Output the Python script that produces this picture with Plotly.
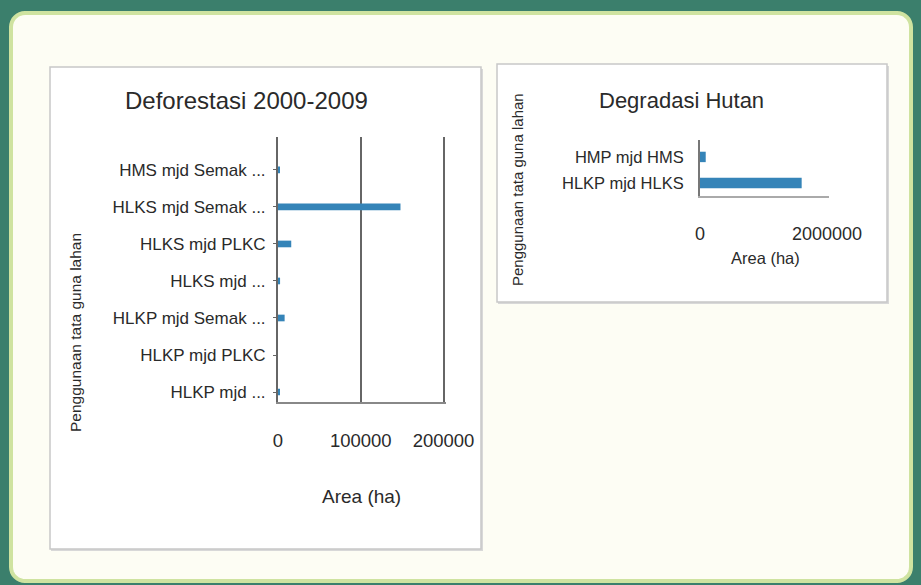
import math
import plotly.graph_objects as go

W, H = 921, 585

# ---- data ----
def_categories = ["HMS mjd Semak ...", "HLKS mjd Semak ...", "HLKS mjd PLKC",
                  "HLKS mjd ...", "HLKP mjd Semak ...", "HLKP mjd PLKC", "HLKP mjd ..."]
def_values = [1500, 148000, 16000, 2500, 8000, 0, 2000]
def_ticks = [0, 100000, 200000]

deg_categories = ["HMP mjd HMS", "HLKP mjd HLKS"]
deg_values = [90000, 1600000]
deg_ticks = [0, 2000000]

BAR = "#3584b8"
FONT = "Liberation Sans, Arial, sans-serif"
TXT = "#2a2a2a"


def fx(x):
    return x / W


def fy(y):
    return 1 - y / H


fig = go.Figure()

fig.add_trace(go.Bar(
    x=def_values, y=def_categories, orientation="h",
    marker=dict(color=BAR, line=dict(width=0)),
    width=0.18, xaxis="x", yaxis="y", showlegend=False,
))
fig.add_trace(go.Bar(
    x=deg_values, y=deg_categories, orientation="h",
    marker=dict(color=BAR, line=dict(width=0)),
    width=0.4, xaxis="x2", yaxis="y2", showlegend=False,
))

fig.update_layout(
    width=W, height=H, autosize=False,
    margin=dict(l=0, r=0, t=0, b=0, autoexpand=False),
    paper_bgcolor="#3b7f6c",
    plot_bgcolor="rgba(0,0,0,0)",
    font=dict(family=FONT, color=TXT),
    xaxis=dict(
        domain=[fx(278), fx(446)], range=[0, 203000], anchor="y",
        tickvals=def_ticks, ticktext=[str(v) for v in def_ticks],
        showgrid=True, gridcolor="#666", gridwidth=1.5,
        showline=True, linecolor="#888", linewidth=2,
        zeroline=False, ticks="", tickfont=dict(family=FONT, size=18.5, color=TXT),
        ticklabelstandoff=21,
    ),
    yaxis=dict(
        domain=[fy(402), fy(137)], anchor="x",
        type="category", categoryorder="array", categoryarray=def_categories[::-1],
        range=[-0.27, 6.89],
        showline=True, linecolor="#666", linewidth=2,
        ticks="outside", ticklen=3, tickcolor="#666",
        showgrid=False, zeroline=False, tickfont=dict(family=FONT, size=17, color=TXT),
        ticklabelstandoff=4,
    ),
    xaxis2=dict(
        domain=[fx(700), fx(829)], range=[0, 2030000], anchor="y2",
        tickvals=deg_ticks, ticktext=[str(v) for v in deg_ticks],
        showgrid=False, showline=True, linecolor="#aaa", linewidth=2,
        zeroline=False, ticks="", tickfont=dict(family=FONT, size=18, color=TXT),
        ticklabelstandoff=20,
    ),
    yaxis2=dict(
        domain=[fy(196), fy(140)], anchor="x2",
        type="category", categoryorder="array", categoryarray=deg_categories[::-1],
        range=[-0.5, 1.65],
        showline=True, linecolor="#777", linewidth=2,
        ticks="", showgrid=False, zeroline=False,
        tickfont=dict(family=FONT, size=16.5, color=TXT),
        ticklabelstandoff=11,
    ),
)


def rounded_rect(xa, ya, xb, yb, rad, n=8):
    pts = []
    corners = [(xb - rad, ya + rad, -90, 0), (xb - rad, yb - rad, 0, 90),
               (xa + rad, yb - rad, 90, 180), (xa + rad, ya + rad, 180, 270)]
    for cx, cy, a0, a1 in corners:
        for i in range(n + 1):
            a = math.radians(a0 + (a1 - a0) * i / n)
            pts.append((cx + rad * math.cos(a), cy + rad * math.sin(a)))
    path = "M " + " L ".join(f"{fx(px):.5f},{fy(py):.5f}" for px, py in pts) + " Z"
    return path


shapes = [
    dict(type="path", xref="paper", yref="paper", path=rounded_rect(11, 13, 911, 581, 14),
         fillcolor="#fdfdf4", line=dict(color="#cfe3a0", width=4), layer="below"),
    dict(type="rect", xref="paper", yref="paper", x0=fx(51), x1=fx(483), y0=fy(69), y1=fy(551),
         fillcolor="#d8d8d8", line=dict(width=0), layer="below"),
    dict(type="rect", xref="paper", yref="paper", x0=fx(50), x1=fx(481), y0=fy(67), y1=fy(549),
         fillcolor="#ffffff", line=dict(color="#c8c8c8", width=1.5), layer="below"),
    dict(type="rect", xref="paper", yref="paper", x0=fx(498), x1=fx(889), y0=fy(66), y1=fy(304),
         fillcolor="#d8d8d8", line=dict(width=0), layer="below"),
    dict(type="rect", xref="paper", yref="paper", x0=fx(497), x1=fx(887), y0=fy(64), y1=fy(302),
         fillcolor="#ffffff", line=dict(color="#c8c8c8", width=1.5), layer="below"),
]
fig.update_layout(shapes=shapes)

annotations = [
    dict(text="Deforestasi 2000-2009", x=fx(246), y=fy(100), font=dict(size=24, color=TXT)),
    dict(text="Area (ha)", x=fx(361), y=fy(496), font=dict(size=19, color=TXT)),
    dict(text="Penggunaan tata guna lahan", x=fx(75), y=fy(333), textangle=-90,
         font=dict(size=15.5, color=TXT)),
    dict(text="Degradasi Hutan", x=fx(681), y=fy(100), font=dict(size=22, color=TXT)),
    dict(text="Area (ha)", x=fx(765), y=fy(258), font=dict(size=16.5, color=TXT)),
    dict(text="Penggunaan tata guna lahan", x=fx(518), y=fy(190), textangle=-90,
         font=dict(size=15, color=TXT)),
]
for a in annotations:
    a.update(xref="paper", yref="paper", showarrow=False, xanchor="center", yanchor="middle")
fig.update_layout(annotations=annotations)

fig.write_html(
    "out.html",
    config={"responsive": False, "displayModeBar": False},
    post_script="document.body.style.margin='0';document.body.style.overflow='hidden';",
)
